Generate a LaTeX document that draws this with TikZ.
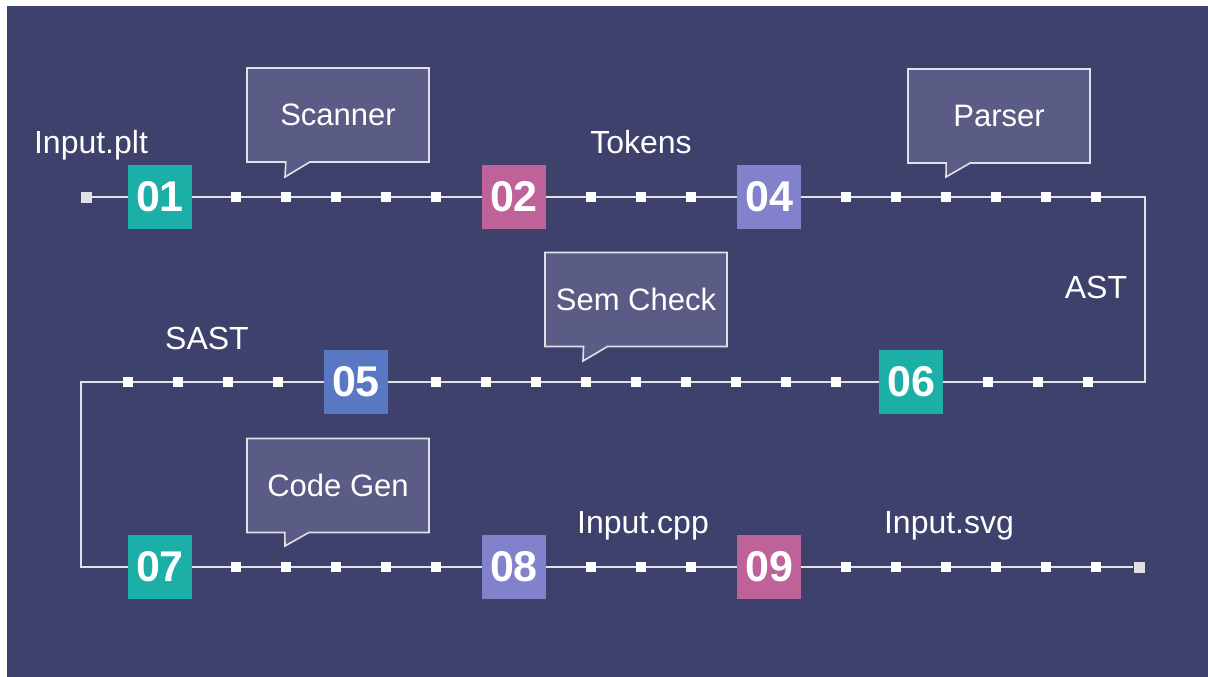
\documentclass[tikz,border=0pt]{standalone}
\usepackage{fontspec}
\setmainfont{Liberation Sans}
\usetikzlibrary{
  shapes.callouts,
  positioning,
  backgrounds
}
\definecolor{NightBlue}{HTML}{3E416B}
\definecolor{WireGray}{HTML}{E0E0E6}
\definecolor{BubbleFill}{HTML}{5B5C85}
\definecolor{ATeal}{HTML}{1BAFA8}
\definecolor{AMagenta}{HTML}{BE6299}
\definecolor{ALavender}{HTML}{8282CC}
\definecolor{ABlue}{HTML}{5878C4}
\tikzset{
  % Numbered stage square
  stage/.style={
    rectangle, fill=#1, minimum size=64pt, inner sep=0pt,
    text=white, font=\fontsize{43}{43}\selectfont\bfseries
  },
  % Small square tick on the wire
  wiretick/.style={
    rectangle, fill=white, minimum size=10pt, inner sep=0pt
  },
  % Square at the two ends of the wire
  wireend/.style={
    rectangle, fill=WireGray, minimum size=11pt, inner sep=0pt
  },
  % The wire itself
  wire/.style={draw=WireGray, line width=2pt},
  % Speech bubble above the wire
  bubble/.style={
    rectangle callout, fill=BubbleFill, draw=WireGray, line width=1.6pt,
    minimum width=182pt, minimum height=94pt, inner sep=0pt,
    callout pointer width=24pt,
    text=white, font=\fontsize{31}{31}\selectfont
  },
  % Plain label
  lbl/.style={text=white, anchor=base, inner sep=0pt, font=\fontsize{32}{32}\selectfont}
}

\begin{document}
\begin{tikzpicture}[x=1pt, y=-1pt]
  \useasboundingbox (0,0) rectangle (1208,677);

  % stages
  \node[stage=ATeal]     (s01) at (160,197) {01};
  \node[stage=AMagenta]  (s02) at (514,197) {02};
  \node[stage=ALavender] (s04) at (769,197) {04};
  \node[stage=ABlue]     (s05) at (356,382) {05};
  \node[stage=ATeal]     (s06) at (911,382) {06};
  \node[stage=ATeal]     (s07) at (160,567) {07};
  \node[stage=ALavender] (s08) at (514,567) {08};
  \node[stage=AMagenta]  (s09) at (769,567) {09};

  % ticks
  \foreach \x in {236,286,...,436,591,641,691,846,896,...,1096}
    \node[wiretick] (ta-\x) at (\x,197) {};
  \foreach \x in {128,178,...,278,436,486,...,836,988,1038,1088}
    \node[wiretick] (tb-\x) at (\x,382) {};
  \foreach \x in {236,286,...,436,591,641,691,846,896,...,1096}
    \node[wiretick] (tc-\x) at (\x,567) {};

  % ends and bends
  \node[wireend] (start)  at (86,197) {};
  \node[wireend] (finish) at (1139,567) {};
  \coordinate (bendA) at (1145,197);
  \coordinate (bendB) at (1145,382);
  \coordinate (bendC) at (81,382);
  \coordinate (bendD) at (81,567);

  % bubbles
  \node[bubble, callout absolute pointer={(285,177)}] (scan)  at (338,115)   {Scanner};
  \node[bubble, callout absolute pointer={(946,177)}] (parse) at (999,116)   {Parser};
  \node[bubble, callout absolute pointer={(583,361)}] (sem)   at (636,299.5) {Sem Check};
  \node[bubble, callout absolute pointer={(285,546)}] (gen)   at (338,485.5) {Code Gen};

  % labels
  \node[lbl] (lplt)  at (91,153)  {Input.plt};
  \node[lbl] (ltok)  at (641,153) {Tokens};
  \node[lbl] (last)  at (1096,298) {AST};
  \node[lbl] (lsast) at (207,349) {SAST};
  \node[lbl] (lcpp)  at (643,533) {Input.cpp};
  \node[lbl] (lsvg)  at (949,533) {Input.svg};

  \begin{scope}[on background layer]
    \fill[white] (0,0) rectangle (1208,677);
    \fill[NightBlue] (7,6) rectangle (1208,677);
    \draw[wire] (start) -- (bendA) -- (bendB) -- (bendC) -- (bendD) -- (finish);
  \end{scope}
\end{tikzpicture}
\end{document}
